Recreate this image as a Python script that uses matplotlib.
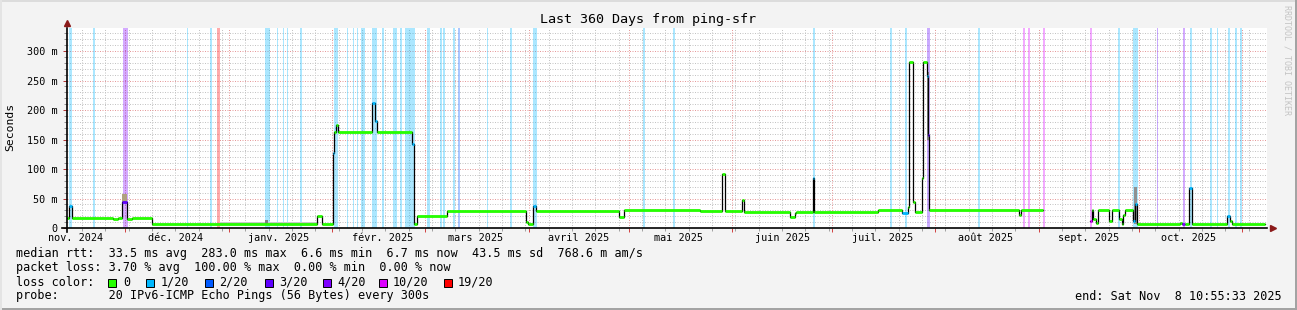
import numpy as np
import matplotlib
matplotlib.use("Agg")
import matplotlib.pyplot as plt
from matplotlib.patches import Rectangle

W, H = 1297, 310
FONT = "DejaVu Sans Mono"

# time frame: 360 days ending Sat Nov 8 10:55:33 2025
START = np.datetime64("2024-11-13T10:55:33")
SPAN_DAYS = 360

# month starts (major grid) and their labels (French locale, as rrdtool prints them)
month_starts = ["2024-11-01", "2024-12-01", "2025-01-01", "2025-02-01", "2025-03-01",
                "2025-04-01", "2025-05-01", "2025-06-01", "2025-07-01", "2025-08-01",
                "2025-09-01", "2025-10-01", "2025-11-01"]
month_labels = ["nov. 2024", "déc. 2024", "janv. 2025", "févr. 2025", "mars 2025",
                "avril 2025", "mai 2025", "juin 2025", "juil. 2025", "août 2025",
                "sept. 2025", "oct. 2025"]
first_monday = "2024-11-18"

# median rtt (ms), step series: start day, value, loss class of the sample
med_day = [0.0, 0.7, 1.4, 13.9, 15.3, 16.6, 17.9, 19.4, 25.6, 74.9, 76.4, 79.7, 80.1,
           80.7, 81.2, 91.4, 92.4, 92.9, 103.4, 104.1, 105.1, 113.9, 137.7, 138.4,
           139.7, 140.7, 165.6, 167.2, 190.0, 196.6, 197.4, 202.5, 203.2, 217.0, 218.3,
           218.8, 223.7, 224.2, 243.2, 250.4, 252.2, 252.7, 253.7, 254.4, 256.4, 256.7,
           257.9, 258.4, 258.7, 285.6, 286.3, 292.7, 306.9, 307.4, 307.9, 308.6, 309.4,
           312.7, 313.5, 315.6, 316.4, 316.8, 317.4, 319.9, 320.5, 320.9, 333.9, 334.6,
           335.4, 336.7, 337.4, 348.1, 348.9, 349.4, 359.4]
med_val = [17.5, 38, 17.5, 16, 17.5, 44, 16, 17.5, 7, 21, 7, 127, 162,
           175, 162, 212, 181, 162, 143, 7, 20, 29, 11, 7,
           38, 29, 18, 30, 28.2, 92, 28.2, 47, 27, 19, 25,
           27, 85, 27, 30, 26, 35, 281, 44, 27, 85, 282,
           258, 158, 30, 22.5, 30, np.nan, 12, 30, 15, 8, 30,
           12, 30, 15, 7, 22, 30, 12, 40, 7, 9, 7,
           7, 68, 7, 20, 12, 7, np.nan]
med_loss = [0, 1, 0, 0, 0, 3, 0, 0, 0, 0, 0, 1, 0,
            0, 0, 1, 1, 0, 1, 0, 0, 0, 0, 0,
            1, 0, 0, 0, 0, 0, 0, 0, 0, 0, 0,
            0, 1, 0, 0, 1, 0, 0, 0, 0, 0, 0,
            1, 3, 0, 0, 0, 0, 5, 0, 0, 0, 0,
            0, 0, 0, 0, 0, 0, 1, 1, 0, 0, 4,
            0, 1, 0, 1, 0, 0, 0]

# smoke (ping spread): start day, end day, low, high (ms), grey
smoke_d0 = [16.6, 45.9, 59.4, 257.9, 320.2]
smoke_d1 = [17.9, 74.9, 60.4, 258.7, 320.9]
smoke_lo = [44, 7, 7, 150, 7]
smoke_hi = [57, 10, 14, 265, 70]
smoke_col = ["#b0a080", "#c8c8c8", "#808080", "#808080", "#909090"]

# packet loss background bands: start day, end day, loss class
band_d0 = [0.7, 7.7, 35.9, 42.9, 59.4, 63.0, 64.7, 65.9, 69.9, 80.2, 83.9, 85.7, 86.9,
           88.2, 91.4, 94.5, 97.9, 99.9, 101.4, 107.9, 111.9, 112.9, 115.7, 125.9,
           132.9, 139.7, 172.7, 181.7, 223.7, 246.9, 251.4, 273.4, 315.2, 319.7, 336.9,
           342.9, 344.9, 348.3, 350.4, 351.9,
           117.2, 326.9, 257.9, 16.7, 334.7,
           286.7, 288.2, 292.7, 306.9, 44.9]
band_d1 = [1.4, 8.4, 36.4, 43.6, 60.9, 63.4, 65.2, 66.3, 70.6, 81.2, 84.4, 86.2, 87.4,
           89.3, 92.9, 95.0, 99.1, 100.4, 104.4, 108.9, 112.5, 113.4, 116.4, 126.4,
           133.6, 140.9, 173.4, 182.4, 224.4, 247.6, 252.1, 273.9, 315.9, 321.2, 337.6,
           343.4, 345.4, 348.9, 350.9, 352.4,
           117.9, 327.4, 258.9, 18.2, 335.4,
           287.4, 288.9, 293.4, 307.6, 45.9]
band_loss = [1] * 40 + [2, 3, 3, 4, 4, 5, 5, 5, 5, 6]

loss_colors = ["#26ff00", "#00b8ff", "#0059ff", "#5e00ff", "#7e00ff", "#dd00ff", "#ff0000"]
loss_labels = ["0", "1/20", "2/20", "3/20", "4/20", "10/20", "19/20"]

legend_lines = [
    "median rtt:  33.5 ms avg  283.0 ms max  6.6 ms min  6.7 ms now  43.5 ms sd  768.6 m am/s",
    "packet loss: 3.70 % avg  100.00 % max  0.00 % min  0.00 % now",
    "loss color:",
    "probe:       20 IPv6-ICMP Echo Pings (56 Bytes) every 300s",
]
end_text = "end: Sat Nov  8 10:55:33 2025"


def to_day(ts):
    return (np.datetime64(ts) - START) / np.timedelta64(1, "D")


def fx(x):
    return x / W


def fy(y):
    return 1 - y / H


fig = plt.figure(figsize=(W / 100, H / 100), dpi=100)
fig.patch.set_facecolor("#f3f3f3")

# rrdtool style frame
fig.add_artist(Rectangle((0, fy(2)), 1, 2 / H, transform=fig.transFigure, color="#dcdcdc", lw=0))
fig.add_artist(Rectangle((0, 0), 1, 2 / H, transform=fig.transFigure, color="#a3a3a3", lw=0))
fig.add_artist(Rectangle((fx(W - 2), 0), 2 / W, 1, transform=fig.transFigure, color="#a3a3a3", lw=0))
fig.add_artist(Rectangle((0, 0), 2 / W, 1, transform=fig.transFigure, color="#e4e4e4", lw=0))

ax = fig.add_axes([fx(67), fy(228), 1200 / W, 200 / H])
ax.set_facecolor("white")
ax.set_xlim(0, SPAN_DAYS)
ax.set_ylim(0, 339)

# ── grid ──────────────────────────────────────────────────────────────────
dots = (0, (1, 1.5))
mondays = np.arange(np.datetime64(first_monday), START + np.timedelta64(SPAN_DAYS, "D"),
                    np.timedelta64(7, "D"))
week_days = [(m - START) / np.timedelta64(1, "D") for m in mondays]
month_days = [to_day(m) for m in month_starts]
major_x = [d for d in month_days if 0 < d < SPAN_DAYS]
for d in week_days:
    ax.axvline(d, color="#c4c4c4", lw=0.72, ls=dots, zorder=0)
for v in range(10, 340, 10):
    if v % 50:
        ax.axhline(v, color="#c4c4c4", lw=0.72, ls=dots, zorder=0)
for d in major_x:
    ax.axvline(d, color="#e69a9a", lw=0.72, ls=dots, zorder=0.5)
for v in range(50, 340, 50):
    ax.axhline(v, color="#e69a9a", lw=0.72, ls=dots, zorder=0.5)

# ── loss bands ────────────────────────────────────────────────────────────
for d0, d1, k in zip(band_d0, band_d1, band_loss):
    ax.axvspan(d0, d1, color=loss_colors[k], alpha=0.33, lw=0, zorder=1)

# ── smoke ─────────────────────────────────────────────────────────────────
for d0, d1, lo, hi, c in zip(smoke_d0, smoke_d1, smoke_lo, smoke_hi, smoke_col):
    ax.fill_between([d0, d1], lo, hi, color=c, lw=0, zorder=2)

# ── median rtt ────────────────────────────────────────────────────────────
xs = np.append(med_day, SPAN_DAYS)
ys = np.append(med_val, np.nan)
ax.step(xs, ys, where="post", color="black", lw=0.9, zorder=3)
seg_end = med_day[1:] + [SPAN_DAYS]
for d0, d1, v, k in zip(med_day, seg_end, med_val, med_loss):
    if np.isnan(v):
        continue
    ax.hlines(v, d0, d1, color=loss_colors[k], lw=2.0, zorder=4)

# ── axes ──────────────────────────────────────────────────────────────────
for s in ax.spines.values():
    s.set_visible(False)
ax.plot([-0.004, 1.0], [0, 0], color="black", lw=1.2, transform=ax.transAxes, clip_on=False, zorder=5)
ax.plot([0, 0], [-0.02, 1.0], color="black", lw=1.2, transform=ax.transAxes, clip_on=False, zorder=5)
ax.plot(1.005, 0, marker=">", ms=5, color="#8b1a1a", mec="#8b1a1a",
        transform=ax.transAxes, clip_on=False, zorder=6)
ax.plot(0, 1.025, marker="^", ms=5, color="#8b1a1a", mec="#8b1a1a",
        transform=ax.transAxes, clip_on=False, zorder=6)

yt = list(range(0, 301, 50))
ax.set_yticks(yt)
ax.set_yticklabels(["0"] + [f"{v} m" for v in yt[1:]], fontsize=7.3, family=FONT)
ax.set_yticks(range(0, 340, 10), minor=True)
ax.tick_params(axis="y", which="major", length=3, width=0.7, color="#b03030", pad=4)
ax.tick_params(axis="y", which="minor", length=2, width=0.7, color="#909090")

ax.set_xticks(major_x)
ax.set_xticklabels([])
ax.set_xticks(week_days, minor=True)
ax.tick_params(axis="x", which="major", length=3, width=0.7, color="#d04040")
ax.tick_params(axis="x", which="minor", length=2, width=0.7, color="#a0a0a0")

for d, lab in zip(month_days[:-1], month_labels):
    ax.text(d + 15, -0.05, lab, transform=ax.get_xaxis_transform(), ha="center", va="center",
            fontsize=7.3, family=FONT, clip_on=False)

# ── texts ─────────────────────────────────────────────────────────────────
fig.text(fx(10), fy(127), "Seconds", rotation=90, ha="center", va="center",
         fontsize=8.2, family=FONT)
fig.text(fx(648), fy(19), "Last 360 Days from ping-sfr", ha="center", va="center",
         fontsize=9.6, family=FONT)
fig.text(fx(1287), fy(5), "RRDTOOL / TOBI OETIKER", rotation=270, ha="center", va="top",
         fontsize=6, family=FONT, color="#c4c4c4")

for i, line in enumerate(legend_lines):
    fig.text(fx(16), fy(254 + 14 * i), line, ha="left", va="center", fontsize=8.5, family=FONT)

box_x = [108, 146, 205, 265, 323, 379, 444]
lab_x = [123, 161, 219, 279, 337, 393, 458]
for bx, lx, c, lab in zip(box_x, lab_x, loss_colors, loss_labels):
    fig.add_artist(Rectangle((fx(bx), fy(286.5)), 8 / W, 8 / H, transform=fig.transFigure,
                             facecolor=c, edgecolor="black", lw=0.7))
    fig.text(fx(lx), fy(282), lab, ha="left", va="center", fontsize=8.5, family=FONT)

fig.text(fx(1282), fy(296), end_text, ha="right", va="center", fontsize=8.5, family=FONT)

fig.savefig("out.png", dpi=100, facecolor=fig.get_facecolor())
